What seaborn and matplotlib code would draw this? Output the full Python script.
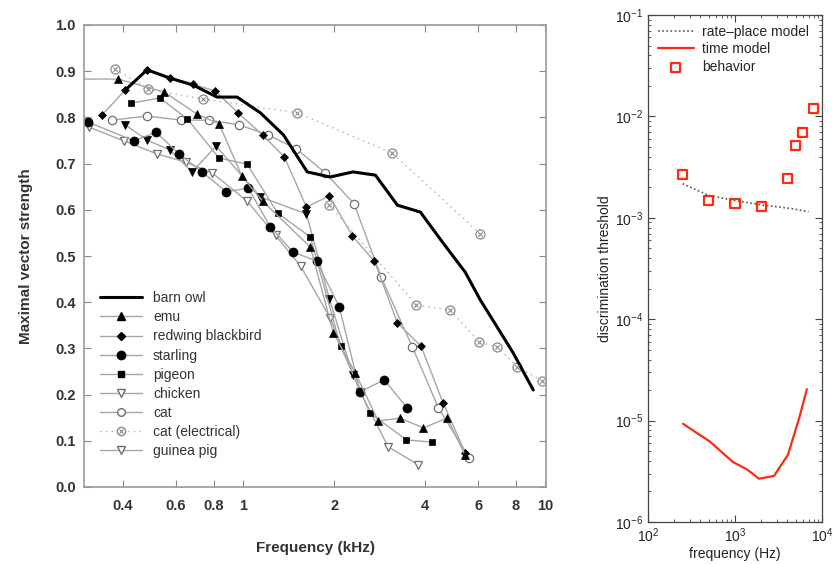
import matplotlib
matplotlib.use("Agg")
import numpy as np
import pandas as pd
import matplotlib.pyplot as plt
import seaborn as sns
from matplotlib.lines import Line2D
from matplotlib.ticker import FixedLocator, NullLocator, NullFormatter, LogLocator

# ---------------- left panel data (frequency kHz, vector strength) ----------------
barn_owl_f = [0.407, 0.481, 0.573, 0.683, 0.820, 0.955, 1.14, 1.36, 1.63, 1.94, 2.31, 2.74, 3.24, 3.86, 4.59, 5.43, 6.09, 6.93, 7.83, 9.12]
barn_owl_v = [0.859, 0.903, 0.885, 0.870, 0.844, 0.844, 0.810, 0.762, 0.682, 0.671, 0.682, 0.675, 0.610, 0.595, 0.528, 0.465, 0.405, 0.346, 0.290, 0.210]

emu_f = [0.28, 0.386, 0.548, 0.704, 0.833, 0.99, 1.16, 1.67, 1.99, 2.35, 2.80, 3.31, 3.95, 4.73, 5.43]
emu_v = [0.883, 0.883, 0.855, 0.807, 0.786, 0.673, 0.619, 0.519, 0.333, 0.247, 0.143, 0.149, 0.128, 0.149, 0.069]

redwing_f = [0.341, 0.407, 0.481, 0.573, 0.683, 0.808, 0.962, 1.16, 1.37, 1.62, 1.93, 2.30, 2.72, 3.24, 3.88, 4.59, 5.43]
redwing_v = [0.805, 0.859, 0.903, 0.885, 0.872, 0.857, 0.810, 0.762, 0.714, 0.606, 0.630, 0.543, 0.489, 0.355, 0.305, 0.182, 0.074]

starling_f = [0.307, 0.436, 0.515, 0.614, 0.732, 0.879, 1.04, 1.23, 1.46, 1.75, 2.08, 2.44, 2.93, 3.49]
starling_v = [0.790, 0.749, 0.768, 0.721, 0.682, 0.639, 0.647, 0.563, 0.509, 0.489, 0.390, 0.206, 0.232, 0.171]

pigeon_f = [0.426, 0.531, 0.653, 0.833, 1.03, 1.30, 1.67, 2.10, 2.63, 3.47, 4.23]
pigeon_v = [0.831, 0.842, 0.797, 0.712, 0.699, 0.593, 0.541, 0.305, 0.160, 0.102, 0.097]

chicken_f = [0.309, 0.404, 0.519, 0.647, 0.789, 1.03, 1.28, 1.55, 1.94, 2.44, 3.02, 3.80]
chicken_v = [0.779, 0.749, 0.721, 0.703, 0.680, 0.619, 0.545, 0.478, 0.366, 0.206, 0.087, 0.048]

cat_f = [0.368, 0.481, 0.623, 0.771, 0.97, 1.21, 1.50, 1.87, 2.33, 2.86, 3.63, 4.43, 5.60]
cat_v = [0.794, 0.803, 0.794, 0.794, 0.784, 0.762, 0.732, 0.680, 0.613, 0.455, 0.303, 0.171, 0.063]

cat_el_a_f = [0.377, 0.484, 0.737, 1.51, 3.11, 6.09]
cat_el_a_v = [0.905, 0.861, 0.840, 0.810, 0.723, 0.548]
cat_el_b_f = [1.93, 3.74, 4.85, 6.04, 6.93, 8.08, 9.78]
cat_el_b_v = [0.610, 0.394, 0.383, 0.314, 0.303, 0.260, 0.229]

guinea_f = [0.407, 0.481, 0.573, 0.678, 0.814, 1.14, 1.62, 1.93, 2.31]
guinea_v = [0.784, 0.751, 0.729, 0.682, 0.738, 0.628, 0.591, 0.407, 0.242]

left_xticks = [0.4, 0.6, 0.8, 1, 2, 4, 6, 8, 10]
left_xticklabels = ["0.4", "0.6", "0.8", "1", "2", "4", "6", "8", "10"]
left_yticks = [0.0, 0.1, 0.2, 0.3, 0.4, 0.5, 0.6, 0.7, 0.8, 0.9, 1.0]

# ---------------- right panel data (frequency Hz, threshold) ----------------
behav_f = [250, 500, 1000, 2000, 4000, 5000, 6000, 8000]
behav_v = [2.67e-3, 1.48e-3, 1.38e-3, 1.29e-3, 2.43e-3, 5.16e-3, 6.95e-3, 1.2e-2]
rate_f = [250, 500, 1000, 2000, 4000, 7000]
rate_v = [2.17e-3, 1.66e-3, 1.48e-3, 1.34e-3, 1.25e-3, 1.15e-3]
time_f = [253, 516, 948, 1374, 1888, 2807, 4060, 5450, 6700]
time_v = [9.3e-6, 6.2e-6, 3.9e-6, 3.3e-6, 2.67e-6, 2.85e-6, 4.6e-6, 1.05e-5, 2.04e-5]

sns.set_style("ticks")
plt.rcParams["font.family"] = ["Liberation Sans", "DejaVu Sans"]
plt.rcParams["xtick.direction"] = "in"
plt.rcParams["ytick.direction"] = "in"

fig = plt.figure(figsize=(8.33, 5.64), dpi=100)
ax1 = fig.add_axes([84/833, 77/564, 462/833, 462/564])
ax2 = fig.add_axes([648/833, 42/564, 174/833, 507/564])

GRAY = "#a6a6a6"
EDGE = "#6e6e6e"

def series(f, v, **kw):
    df = pd.DataFrame({"f": f, "v": v})
    sns.lineplot(data=df, x="f", y="v", ax=ax1, sort=False, estimator=None,
                 legend=False, **kw)

# cat electrical (dotted)
for f, v in [(cat_el_a_f, cat_el_a_v), (cat_el_b_f, cat_el_b_v)]:
    series(f, v, color="#b0b0b0", lw=1.0, linestyle=(0, (1, 3)), marker="o", ms=6.5,
           mfc="white", mec="#8a8a8a", mew=0.9)
    sns.scatterplot(x=f, y=v, ax=ax1, marker="x", s=10, color="#8a8a8a",
                    linewidth=0.8, legend=False, zorder=5)

series(cat_f, cat_v, color=GRAY, lw=1.0, marker="o", ms=6, mfc="white", mec=EDGE, mew=0.9)
series(chicken_f, chicken_v, color=GRAY, lw=1.0, marker="v", ms=5.5, mfc="white", mec=EDGE, mew=0.9)
series(guinea_f, guinea_v, color=GRAY, lw=1.0, marker="v", ms=5.5, mfc="black", mec="black", mew=0.5)
series(pigeon_f, pigeon_v, color=GRAY, lw=1.0, marker="s", ms=5, mfc="black", mec="black", mew=0.5)
series(starling_f, starling_v, color=GRAY, lw=1.0, marker="o", ms=6.5, mfc="black", mec="black", mew=0.5)
series(redwing_f, redwing_v, color=GRAY, lw=1.0, marker="D", ms=4.5, mfc="black", mec="black", mew=0.5)
series(emu_f, emu_v, color=GRAY, lw=1.0, marker="^", ms=5.5, mfc="black", mec="black", mew=0.5)
series(barn_owl_f, barn_owl_v, color="black", lw=2.2)

ax1.set_xscale("log")
ax1.set_xlim(0.2975, 10.05)
ax1.set_ylim(0.0, 1.0)
ax1.xaxis.set_major_locator(FixedLocator(left_xticks))
ax1.set_xticklabels(left_xticklabels)
ax1.xaxis.set_minor_locator(NullLocator())
ax1.set_yticks(left_yticks)
ax1.set_yticklabels([f"{t:.1f}" for t in left_yticks])
ax1.tick_params(axis="both", which="major", direction="in", length=5, width=0.8,
                color="#888888", top=True, right=True, labelsize=10.5,
                labelcolor="#333333")
ax1.tick_params(axis="y", pad=6)
ax1.tick_params(axis="x", pad=9)
for lab in ax1.get_xticklabels() + ax1.get_yticklabels():
    lab.set_fontweight("bold")
for sp in ax1.spines.values():
    sp.set_color("#999999")
    sp.set_linewidth(1.2)
ax1.set_xlabel("Frequency (kHz)", fontsize=11, fontweight="bold", color="#333333", labelpad=20)
ax1.set_ylabel("Maximal vector strength", fontsize=11, fontweight="bold", color="#333333", labelpad=16)

# custom legend
h_owl = Line2D([], [], color="black", lw=2.2)
h_emu = Line2D([], [], color=GRAY, lw=1, marker="^", ms=5.5, mfc="black", mec="black")
h_red = Line2D([], [], color=GRAY, lw=1, marker="D", ms=4.5, mfc="black", mec="black")
h_sta = Line2D([], [], color=GRAY, lw=1, marker="o", ms=6, mfc="black", mec="black")
h_pig = Line2D([], [], color=GRAY, lw=1, marker="s", ms=5, mfc="black", mec="black")
h_chi = Line2D([], [], color=GRAY, lw=1, marker="v", ms=5.5, mfc="white", mec=EDGE)
h_cat = Line2D([], [], color=GRAY, lw=1, marker="o", ms=5.5, mfc="white", mec=EDGE)
h_cel = (Line2D([], [], color="#b0b0b0", lw=1, linestyle=(0, (1, 3)), marker="o", ms=6, mfc="white", mec="#8a8a8a"),
         Line2D([], [], color="none", marker="x", ms=3, mec="#8a8a8a", mew=0.8))
h_gui = Line2D([], [], color=GRAY, lw=1, marker="v", ms=5.5, mfc="white", mec=EDGE)
leg = ax1.legend([h_owl, h_emu, h_red, h_sta, h_pig, h_chi, h_cat, h_cel, h_gui],
                 ["barn owl", "emu", "redwing blackbird", "starling", "pigeon", "chicken",
                  "cat", "cat (electrical)", "guinea pig"],
                 loc="upper left", bbox_to_anchor=(0.035, 0.424), frameon=False,
                 fontsize=10, handlelength=3.0, handletextpad=0.8, labelspacing=0.37,
                 borderpad=0, borderaxespad=0)
for t in leg.get_texts():
    t.set_color("#333333")

# ---------------- right panel ----------------
sns.lineplot(x=rate_f, y=rate_v, ax=ax2, color="#555555", lw=1.2, linestyle=(0, (1, 1.5)),
             sort=False, estimator=None, label="rate\u2013place model")
sns.lineplot(x=time_f, y=time_v, ax=ax2, color="#ff2a10", lw=1.6, sort=False,
             estimator=None, label="time model")
sns.scatterplot(x=behav_f, y=behav_v, ax=ax2, marker="s", s=42, facecolor="none",
                edgecolor="#ff2a10", linewidth=1.6, label="behavior", zorder=5)
ax2.set_xscale("log")
ax2.set_yscale("log")
ax2.set_xlim(100, 10000)
ax2.set_ylim(1e-6, 1e-1)
ax2.xaxis.set_major_locator(LogLocator(base=10, numticks=10))
ax2.yaxis.set_major_locator(LogLocator(base=10, numticks=10))
ax2.xaxis.set_minor_locator(LogLocator(base=10, subs=np.arange(2, 10), numticks=20))
ax2.yaxis.set_minor_locator(LogLocator(base=10, subs=np.arange(2, 10), numticks=20))
ax2.xaxis.set_minor_formatter(NullFormatter())
ax2.yaxis.set_minor_formatter(NullFormatter())
ax2.tick_params(axis="both", which="major", direction="in", length=5, width=0.8,
                top=True, right=True, labelsize=10, color="#444444", labelcolor="#222222")
ax2.tick_params(axis="both", which="minor", direction="in", length=2.5, width=0.6,
                top=True, right=True, color="#444444")
for sp in ax2.spines.values():
    sp.set_color("#444444")
    sp.set_linewidth(0.9)
ax2.set_xlabel("frequency (Hz)", fontsize=10, color="#222222", labelpad=1)
ax2.set_ylabel("discrimination threshold", fontsize=10, color="#222222", labelpad=2)
leg2 = ax2.legend(loc="upper left", frameon=False, fontsize=10, handlelength=2.6,
                  handletextpad=0.6, labelspacing=0.25, borderaxespad=0.3)

fig.savefig("out.png", dpi=100)
